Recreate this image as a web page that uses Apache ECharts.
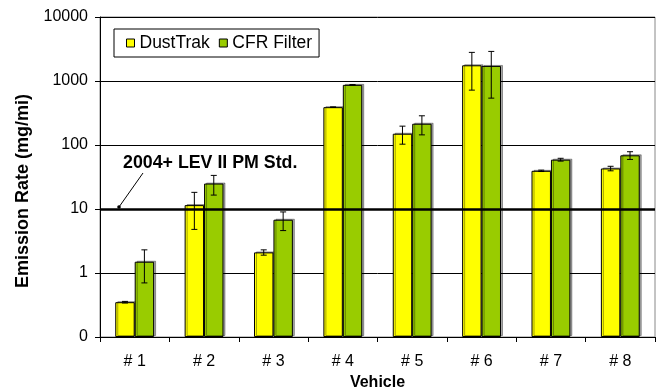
<!DOCTYPE html>
<html>
<head>
<meta charset="utf-8">
<script src="https://cdn.jsdelivr.net/npm/echarts@6/dist/echarts.min.js"></script>
<style>html,body{margin:0;padding:0;background:#fff}#c{width:663px;height:389px}</style>
</head>
<body>
<div id="c"></div>
<script>
var categories = ['# 1', '# 2', '# 3', '# 4', '# 5', '# 6', '# 7', '# 8'];
var dustTrak = [0.35, 11.5, 2.1, 390, 150, 1760, 39.5, 43];
var dustTrakErr = [0.01, 6.7, 0.2, 4, 47, 1040, 1, 3.5];
var cfrFilter = [1.5, 25, 6.8, 870, 215, 1720, 59, 69];
var cfrFilterErr = [0.8, 8.5, 2.2, 8, 71, 1180, 3, 9.5];
var standardValue = 10;
var yTickLabels = {0.1: '0', 1: '1', 10: '10', 100: '100', 1000: '1000', 10000: '10000'};

var FONT = '"Liberation Sans", Arial, sans-serif';

function errData(vals, errs) {
  return vals.map(function (v, i) { return [i, v - errs[i], v + errs[i]]; });
}
function errRender(sign) {
  return function (params, api) {
    var x = api.value(0);
    var lo = api.coord([x, api.value(1)]);
    var hi = api.coord([x, api.value(2)]);
    var band = api.size([1, 0])[0];
    var cx = lo[0] + sign * 0.14 * band;
    var c = 3;
    var st = { stroke: '#000', lineWidth: 1 };
    return {
      type: 'group',
      children: [
        { type: 'line', shape: { x1: cx, y1: hi[1], x2: cx, y2: lo[1] }, style: st },
        { type: 'line', shape: { x1: cx - c, y1: hi[1], x2: cx + c, y2: hi[1] }, style: st },
        { type: 'line', shape: { x1: cx - c, y1: lo[1], x2: cx + c, y2: lo[1] }, style: st }
      ]
    };
  };
}

var chart = echarts.init(document.getElementById('c'), null, { renderer: 'canvas' });
var barStyleBase = { borderColor: '#000', borderWidth: 1, shadowColor: 'rgba(0,0,0,0.35)', shadowOffsetX: 2, shadowOffsetY: -1, shadowBlur: 0 };
chart.setOption({
  animation: false,
  textStyle: { fontFamily: FONT },
  grid: { left: 100, top: 17, right: 8, bottom: 52, show: true, borderColor: '#888', borderWidth: 1, containLabel: false, outerBoundsMode: 'none' },
  legend: {
    left: 114, top: 29,
    padding: [5, 7, 5, 12],
    itemGap: 9,
    itemWidth: 8, itemHeight: 8,
    borderColor: '#000', borderWidth: 1, borderRadius: 0,
    icon: 'rect',
    itemStyle: { borderColor: '#000', borderWidth: 1 },
    textStyle: { fontFamily: FONT, fontSize: 17.5, color: '#000' },
    data: ['DustTrak', 'CFR Filter']
  },
  xAxis: {
    type: 'category',
    data: categories,
    name: 'Vehicle',
    nameLocation: 'middle',
    nameGap: 38,
    nameTextStyle: { fontFamily: FONT, fontSize: 16, fontWeight: 'bold', color: '#000' },
    axisLine: { lineStyle: { color: '#000', width: 1 } },
    axisTick: { show: true, length: 5, inside: false, lineStyle: { color: '#000' } },
    axisLabel: { fontFamily: FONT, fontSize: 16, color: '#000', margin: 17 },
    splitLine: { show: false }
  },
  yAxis: {
    type: 'log',
    logBase: 10,
    min: 0.1,
    max: 10000,
    startValue: 0.1,
    name: 'Emission Rate (mg/mi)',
    nameLocation: 'middle',
    nameGap: 68,
    nameTextStyle: { fontFamily: FONT, fontSize: 18, fontWeight: 'bold', color: '#000', padding: [0, 28, 0, 0] },
    axisLine: { show: true, lineStyle: { color: '#000', width: 1 } },
    axisTick: { show: true, length: 5, inside: false, lineStyle: { color: '#000' } },
    axisLabel: {
      fontFamily: FONT, fontSize: 16, color: '#000', margin: 12,
      formatter: function (v) {
        for (var p in yTickLabels) { if (Math.abs(parseFloat(p) - v) / v < 1e-6) return yTickLabels[p]; }
        return '';
      }
    },
    splitLine: { show: true, lineStyle: { color: '#000', width: 1 } }
  },
  series: [
    {
      name: 'DustTrak', type: 'bar', data: dustTrak,
      barGap: '0%', barCategoryGap: '44%',
      itemStyle: Object.assign({ color: '#FFFF00' }, barStyleBase),
      markLine: {
        silent: true, symbol: ['none', 'none'], label: { show: false },
        lineStyle: { color: '#000', width: 2.5, type: 'solid' },
        data: [{ yAxis: standardValue }]
      },
      z: 2
    },
    {
      name: 'CFR Filter', type: 'bar', data: cfrFilter,
      barGap: '0%', barCategoryGap: '44%',
      itemStyle: Object.assign({ color: '#99CC00' }, barStyleBase),
      z: 2
    },
    {
      name: 'DustTrakErr', type: 'custom', data: errData(dustTrak, dustTrakErr),
      encode: { x: 0, y: [1, 2] }, renderItem: errRender(-1), z: 5, silent: true
    },
    {
      name: 'CFRErr', type: 'custom', data: errData(cfrFilter, cfrFilterErr),
      encode: { x: 0, y: [1, 2] }, renderItem: errRender(1), z: 5, silent: true
    }
  ]
});

var yStd = chart.convertToPixel({ yAxisIndex: 0 }, standardValue);
chart.setOption({
  graphic: [
    { type: 'text', left: 123, top: 154, z: 10,
      style: { text: '2004+ LEV II PM Std.', font: 'bold 17.8px ' + FONT, fill: '#000' } },
    { type: 'line', z: 10, shape: { x1: 143, y1: 173, x2: 119, y2: yStd - 2 }, style: { stroke: '#000', lineWidth: 1 } },
    { type: 'circle', z: 10, shape: { cx: 119, cy: yStd - 2, r: 1.8 }, style: { fill: '#000' } }
  ]
});
</script>
</body>
</html>
